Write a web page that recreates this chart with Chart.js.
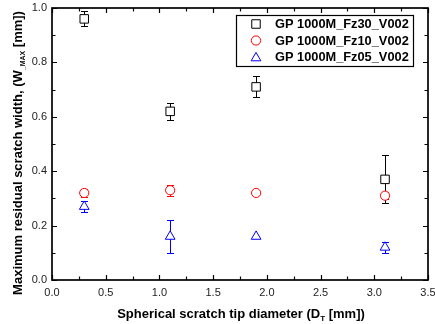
<!DOCTYPE html>
<html>
<head>
<meta charset="utf-8">
<script src="https://cdn.jsdelivr.net/npm/chart.js@4/dist/chart.umd.min.js"></script>
<style>
html,body{margin:0;padding:0;background:#fff;}
#wrap{width:435px;height:324px;position:relative;}
</style>
</head>
<body>
<div id="wrap"><canvas id="c" width="435" height="324"></canvas></div>
<script>
const tipDiameter = [0.3, 1.1, 1.9, 3.1];
const fz30Width = [0.96, 0.62, 0.71, 0.37];
const fz30Err = [0.028, 0.031, 0.039, 0.088];
const fz10Width = [0.32, 0.33, 0.32, 0.31];
const fz10Err = [0.015, 0.02, 0, 0.012];
const fz05Width = [0.27, 0.16, 0.16, 0.12];
const fz05Err = [0.02, 0.06, 0, 0.02];
const seriesNames = ['GP 1000M_Fz30_V002', 'GP 1000M_Fz10_V002', 'GP 1000M_Fz05_V002'];
const xTicks = [0.0, 0.5, 1.0, 1.5, 2.0, 2.5, 3.0, 3.5];
const yTicks = [0.0, 0.2, 0.4, 0.6, 0.8, 1.0];

const FONT = '"Liberation Sans", Arial, Helvetica, sans-serif';

function pts(ys){ return tipDiameter.map((x,i)=>({x:x, y:ys[i]})); }

const errorBars = {
  id: 'errorBars',
  beforeDatasetsDraw(chart){
    const ctx = chart.ctx, xs = chart.scales.x, ys = chart.scales.y;
    ctx.save();
    chart.data.datasets.forEach(ds=>{
      ctx.strokeStyle = ds.borderColor; ctx.lineWidth = 1;
      ds.data.forEach((p,j)=>{
        const e = ds.errors[j]; if(!e) return;
        const x = Math.round(xs.getPixelForValue(p.x))+0.5;
        const yt = Math.round(ys.getPixelForValue(p.y+e))+0.5;
        const yb = Math.round(ys.getPixelForValue(p.y-e))+0.5;
        ctx.beginPath();
        ctx.moveTo(x, yt); ctx.lineTo(x, yb);
        ctx.moveTo(x-3.5, yt); ctx.lineTo(x+3.5, yt);
        ctx.moveTo(x-3.5, yb); ctx.lineTo(x+3.5, yb);
        ctx.stroke();
      });
    });
    ctx.restore();
  }
};

const frame = {
  id: 'frame',
  afterDraw(chart){
    const ctx = chart.ctx, a = chart.chartArea, xs = chart.scales.x, ys = chart.scales.y;
    ctx.save();
    ctx.strokeStyle = '#000'; ctx.lineWidth = 1.7;
    ctx.strokeRect(a.left, a.top, a.right-a.left, a.bottom-a.top);
    ctx.lineWidth = 1.2;
    ctx.beginPath();
    for(let v=0; v<=3.5001; v+=0.25){
      const x = Math.round(xs.getPixelForValue(v))+0.5;
      const major = Math.abs(v/0.5 - Math.round(v/0.5))<1e-6;
      const L = major?5:3.5;
      ctx.moveTo(x, a.bottom); ctx.lineTo(x, a.bottom-L);
      ctx.moveTo(x, a.top); ctx.lineTo(x, a.top+L);
    }
    for(let v=0; v<=1.0001; v+=0.1){
      const y = Math.round(ys.getPixelForValue(v))+0.5;
      const major = Math.abs(v/0.2 - Math.round(v/0.2))<1e-6;
      const L = major?5:3.5;
      ctx.moveTo(a.left, y); ctx.lineTo(a.left+L, y);
      ctx.moveTo(a.right, y); ctx.lineTo(a.right-L, y);
    }
    ctx.stroke();

    // legend
    const lx = 236, ly = 15, lw = 177, lh = 51;
    ctx.fillStyle = '#fff';
    ctx.fillRect(lx, ly, lw, lh);
    ctx.lineWidth = 1.2;
    ctx.strokeStyle = '#000';
    ctx.strokeRect(lx+0.5, ly+0.5, lw, lh);
    chart.data.datasets.forEach((ds,i)=>{
      const yy = ly + 9 + i*16.5;
      ctx.strokeStyle = ds.borderColor;
      ctx.fillStyle = '#fff';
      ctx.lineWidth = 1;
      Chart.helpers.drawPoint(ctx, {pointStyle: ds.pointStyle, radius: ds.pointRadius, borderWidth: 1}, 256, yy + (ds.pointStyle==='triangle'?1:0));
      ctx.fillStyle = '#000';
      ctx.font = 'bold 12.8px ' + FONT;
      ctx.textAlign = 'left'; ctx.textBaseline = 'middle';
      ctx.fillText(ds.label, 275, yy+0.5);
    });

    // x axis title with subscript
    ctx.fillStyle = '#000';
    ctx.textBaseline = 'alphabetic';
    const f1 = 'bold 13px ' + FONT, f2 = 'bold 8px ' + FONT;
    const p1 = 'Spherical scratch tip diameter (D', s1 = 'T', p2 = ' [mm])';
    ctx.font = f1; const w1 = ctx.measureText(p1).width, w3 = ctx.measureText(p2).width;
    ctx.font = f2; const w2 = ctx.measureText(s1).width;
    let x0 = 241 - (w1+w2+w3)/2, yb = 318;
    ctx.font = f1; ctx.textAlign='left'; ctx.fillText(p1, x0, yb);
    ctx.font = f2; ctx.fillText(s1, x0+w1, yb+3);
    ctx.font = f1; ctx.fillText(p2, x0+w1+w2, yb);

    // y axis title
    ctx.translate(22, 153);
    ctx.rotate(-Math.PI/2);
    const q1 = 'Maximum residual scratch width, (W', t1 = '_MAX', q2 = ' [mm])';
    const g1 = 'bold 13px ' + FONT, g2 = 'bold 7px ' + FONT;
    ctx.font = g1; const v1 = ctx.measureText(q1).width, v3 = ctx.measureText(q2).width;
    ctx.font = g2; const v2 = ctx.measureText(t1).width;
    let y0 = -(v1+v2+v3)/2;
    ctx.font = g1; ctx.fillText(q1, y0, 0);
    ctx.font = g2; ctx.fillText(t1, y0+v1, 2.5);
    ctx.font = g1; ctx.fillText(q2, y0+v1+v2, 0);
    ctx.restore();
  }
};

const colors = ['#000000', '#ff0000', '#0000ff'];
const styles = ['rect', 'circle', 'triangle'];
const radii = [6, 4.6, 5.6];
const values = [fz30Width, fz10Width, fz05Width];
const errs = [fz30Err, fz10Err, fz05Err];

new Chart(document.getElementById('c'), {
  type: 'scatter',
  data: {
    datasets: values.map((v,i)=>({
      label: seriesNames[i],
      data: pts(v),
      errors: errs[i],
      pointStyle: styles[i],
      pointRadius: radii[i],
      pointHoverRadius: radii[i],
      borderColor: colors[i],
      backgroundColor: '#ffffff',
      pointBorderWidth: 1,
      showLine: false
    }))
  },
  options: {
    responsive: false,
    animation: false,
    devicePixelRatio: 1,
    layout: { padding: { left: 0, right: 2, top: 8, bottom: 0 } },
    plugins: { legend: { display: false }, tooltip: { enabled: false } },
    scales: {
      x: {
        type: 'linear', min: 0, max: 3.5,
        afterBuildTicks(s){ s.ticks = xTicks.map(v=>({value:v})); },
        afterFit(s){ s.height = 44; s.paddingLeft = 0; s.paddingRight = 0; },
        grid: { display: false, drawTicks: false },
        border: { display: false },
        ticks: { padding: 6, color: '#222', font: { family: FONT, size: 11 }, maxRotation: 0, autoSkip: false,
                 callback: v => v.toFixed(1) },
        title: { display: false }
      },
      y: {
        type: 'linear', min: 0, max: 1.0,
        afterBuildTicks(s){ s.ticks = yTicks.map(v=>({value:v})); },
        afterFit(s){ s.width = 52; s.paddingTop = 0; s.paddingBottom = 0; },
        grid: { display: false, drawTicks: false },
        border: { display: false },
        ticks: { padding: 5, color: '#222', font: { family: FONT, size: 11 }, autoSkip: false,
                 callback: v => v.toFixed(1) },
        title: { display: false }
      }
    }
  },
  plugins: [errorBars, frame]
});
</script>
</body>
</html>
